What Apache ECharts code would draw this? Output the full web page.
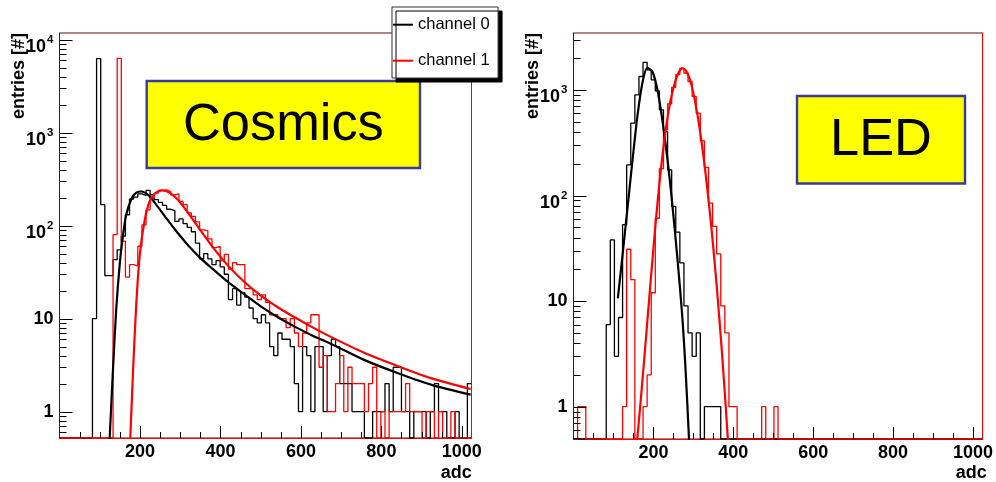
<!DOCTYPE html>
<html>
<head>
<meta charset="utf-8">
<script src="https://cdn.jsdelivr.net/npm/echarts@6/dist/echarts.min.js"></script>
<style>
html,body{margin:0;padding:0;background:#fff;}
#chart{width:996px;height:482px;}
</style>
</head>
<body>
<div id="chart"></div>
<script>
// ---------------- data ----------------
const adcMax = 1024;
const nBins = 100;
const xTickLabels = [200, 400, 600, 800, 1000];
const legendNames = ['channel 0', 'channel 1'];
const cosmicsYRange = [0.52, 11800];
const ledYRange = [0.494, 3470];

// Cosmics, channel 0 (black) : counts per bin
const cosmicsCh0 = [
  0,0,0,0,0,0,0,0,10,6270,
  168,29,29,43,55,77,131,193,203,220,
  210,239,215,190,178,165,150,145,111,118,
  105,96,86,65,44,50,44,38,42,36,
  30,16,21,14,19,17,13,10,9,11,
  9,5,4,7,6,6,5,2,1,5,
  4,1,5,5,1,4,6,5,2,2,
  2,1,1,1,0,0,1,1,1,2,
  1,3,3,1,1,0,1,1,1,0,
  1,2,1,1,0,0,1,0,0,2
];
// Cosmics, channel 1 (red)
const cosmicsCh1 = [
  0,0,0,0,0,0,0,0,0,0,
  0,0,0,80,6300,68,28,38,37,60,
  102,148,198,224,239,243,233,214,220,182,
  168,137,126,110,90,88,72,58,60,42,
  49,34,40,38,38,21,21,18,16,18,
  15,11,11,10,10,8,10,7,5,7,
  9,11,11,3,4,1,1,2,4,1,
  3,2,2,2,1,2,3,0,1,0,
  1,1,1,1,2,1,1,1,0,1,
  1,0,1,0,0,1,0,0,0,0
];
// LED, channel 0 (black)
const ledCh0 = [
  0,0,0,0,0,0,0,0,6,38,
  3,7,53,195,485,900,1343,1830,1550,1250,
  980,649,404,175,79,45,23,9,5,3,
  5,0,1,1,1,1,0,0,0,0,
  0,0,0,0,0,0,0,0,0,0,
  0,0,0,0,0,0,0,0,0,0,
  0,0,0,0,0,0,0,0,0,0,
  0,0,0,0,0,0,0,0,0,0,
  0,0,0,0,0,0,0,0,0,0,
  0,0,0,0,0,0,0,0,0,0
];
// LED, channel 1 (red)
const ledCh1 = [
  0,1,1,0,0,0,0,0,0,0,
  0,0,1,31,16,0,0,1,2,12,
  61,180,419,740,1060,1400,1610,1450,1200,870,
  604,330,185,85,51,28,9,5,1,1,
  0,0,0,0,0,0,1,0,0,1,
  0,0,0,0,0,0,0,0,0,0,
  0,0,0,0,0,0,0,0,0,0,
  0,0,0,0,0,0,0,0,0,0,
  0,0,0,0,0,0,0,0,0,0,
  0,0,0,0,0,0,0,0,0,0
];

// fit curves (adc, entries)
const cosmicsFit0X = [122,125,133,141,150,158,166,179,191,204,220,237,262,287,320,349,379,420,463,504,545,587,628,673,757,840,923,1022];
const cosmicsFit0Y = [0.30,0.55,2.88,12.6,39.8,79.4,132,195,226,233,214,176,126,90.8,61.1,45.3,34.7,24.5,17.8,13.2,10.2,8.1,6.6,5.4,3.6,2.6,1.95,1.52];
const cosmicsFit1X = [173,176,183,191,200,212,224,237,254,275,299,324,343,379,420,463,504,545,587,628,673,757,840,923,1022];
const cosmicsFit1Y = [0.25,0.52,2.86,14.8,51,116,182,220,239,224,180,129,98.8,60.3,36.7,24,17.2,13.0,10.2,8.1,6.4,4.3,3.1,2.29,1.75];
const ledFit0X = [111,123,136,148,160,173,185,198,210,222,235,247,260,272,280,287,293];
const ledFit0Y = [10.6,27.9,81.8,221,566,1197,1622,1483,1007,533,224,85.1,25.7,7.41,2.45,0.73,0.24];
const ledFit1X = [156,169,181,193.5,206,218,231,243,255.5,264,272,281,290,297,309,322,334,346,359,371,381,390];
const ledFit1Y = [0.35,1.23,4.28,16.1,57,167,424,800,1233,1486,1600,1535,1300,1054,624,295,125,46.3,13.2,3.5,1.01,0.30];

// ---------------- helpers ----------------
const FONT = '"Liberation Sans", Arial, Helvetica, sans-serif';
const binEdges = [];
for (let i = 0; i <= nBins; i++) binEdges.push(i * adcMax / nBins);

function histData(counts, floor) {
  const d = counts.map((c, i) => [binEdges[i], c > 0 ? c : floor]);
  const last = counts[counts.length - 1];
  d.push([binEdges[nBins], last > 0 ? last : floor]);
  return d;
}
function pairs(xs, ys) { return xs.map((x, i) => [x, ys[i]]); }

function logTicks(lo, hi) {
  const out = [];
  for (let e = -1; e <= 4; e++) {
    for (let k = 1; k <= 9; k++) {
      const v = k * Math.pow(10, e);
      if (v >= lo && v <= hi) out.push([0, v, k === 1 ? 13 : 7, 0]);
    }
  }
  return out;
}
function xTicks(yLo) {
  const out = [];
  for (let x = 50; x <= 1000; x += 50) out.push([x, yLo, x % 200 === 0 ? 12 : 6, 1]);
  return out;
}
function tickSeries(idx, yRange) {
  return {
    type: 'custom', xAxisIndex: idx, yAxisIndex: idx, silent: true, z: 6,
    data: logTicks(yRange[0], yRange[1]).concat(xTicks(yRange[0])),
    renderItem: function (params, api) {
      const p = api.coord([api.value(0), api.value(1)]);
      const len = api.value(2);
      if (api.value(3) === 0) {
        const y = Math.round(p[1]) + 0.5;
        return {type: 'line', shape: {x1: p[0], y1: y, x2: p[0] + len, y2: y}, style: {stroke: '#000', lineWidth: 1}};
      }
      const x = Math.round(p[0]) + 0.5;
      return {type: 'line', shape: {x1: x, y1: p[1], x2: x, y2: p[1] - len}, style: {stroke: '#000', lineWidth: 1}};
    }
  };
}

const yLabel = {
  margin: 6, color: '#000', fontFamily: FONT,
  formatter: function (v) {
    const e = Math.round(Math.log10(v));
    if (Math.abs(v / Math.pow(10, e) - 1) > 1e-6) return '';
    if (e <= 1) return '{n|' + Math.round(Math.pow(10, e)) + '}';
    return '{b|10}{s|' + e + '}';
  },
  rich: {
    n: {fontSize: 18, fontWeight: 'bold', fontFamily: FONT, color: '#000', verticalAlign: 'middle'},
    b: {fontSize: 18, fontWeight: 'bold', fontFamily: FONT, color: '#000', verticalAlign: 'middle', padding: [14, 0, 0, 0]},
    s: {fontSize: 11.5, fontWeight: 'bold', fontFamily: FONT, color: '#000', verticalAlign: 'middle', padding: [0, 0, 0, 1]}
  }
};
const xLabel = {
  margin: 5, color: '#000', fontSize: 18, fontWeight: 'bold', fontFamily: FONT,
  formatter: function (v) { return xTickLabels.indexOf(Math.round(v)) >= 0 ? String(Math.round(v)) : ''; }
};

function xAxisDef(idx) {
  return {
    gridIndex: idx, type: 'value', min: 0, max: adcMax, interval: 200,
    axisLine: {show: true, onZero: false, lineStyle: {color: '#ff0000', width: 1}},
    axisTick: {show: false}, splitLine: {show: false}, axisLabel: xLabel
  };
}
function yAxisDef(idx, range) {
  return {
    gridIndex: idx, type: 'log', logBase: 10, min: range[0], max: range[1],
    axisLine: {show: true, lineStyle: {color: '#5a1010', width: 1}},
    axisTick: {show: false}, splitLine: {show: false}, axisLabel: yLabel
  };
}
function rightEdge(idx) {
  return {
    gridIndex: idx, type: 'value', position: 'right', min: 0, max: 1,
    axisLine: {show: true, onZero: false, lineStyle: {color: '#ff0000', width: 1}},
    axisTick: {show: false}, axisLabel: {show: false}, splitLine: {show: false}
  };
}
function histSeries(name, idx, counts, floor, color, z) {
  return {
    name: name, type: 'line', xAxisIndex: idx, yAxisIndex: idx, step: 'end',
    data: histData(counts, floor), symbol: 'none', clip: true, z: z,
    lineStyle: {color: color, width: 1.3}, itemStyle: {color: color}
  };
}
function fitSeries(name, idx, xs, ys, color, z) {
  return {
    name: name, type: 'line', xAxisIndex: idx, yAxisIndex: idx, smooth: 0.3,
    data: pairs(xs, ys), symbol: 'none', clip: true, z: z,
    lineStyle: {color: color, width: 2.2}, itemStyle: {color: color}
  };
}

const chart = echarts.init(document.getElementById('chart'), null, {renderer: 'canvas'});
chart.setOption({
  animation: false,
  backgroundColor: '#fff',
  grid: [
    {left: 59.5, top: 33, width: 412, height: 405, show: true, borderColor: '#5a1010', borderWidth: 1, backgroundColor: 'transparent'},
    {left: 573.5, top: 33, width: 413, height: 406, show: true, borderColor: '#5a1010', borderWidth: 1, backgroundColor: 'transparent'}
  ],
  xAxis: [xAxisDef(0), xAxisDef(1)],
  yAxis: [yAxisDef(0, cosmicsYRange), yAxisDef(1, ledYRange), rightEdge(0), rightEdge(1)],
  legend: {
    data: legendNames, orient: 'vertical', left: 392, top: 7,
    padding: [8.7, 8.5, 8.3, 1], itemGap: 18, itemWidth: 20, itemHeight: 2, icon: 'rect',
    backgroundColor: '#fff', borderColor: '#333', borderWidth: 1,
    shadowColor: '#000', shadowOffsetX: 4, shadowOffsetY: 4, shadowBlur: 0,
    textStyle: {fontFamily: FONT, fontSize: 16.5, color: '#000', lineHeight: 18},
    selectedMode: false, z: 50
  },
  graphic: [
    {type: 'rect', z: 40, shape: {x: 146.7, y: 81, width: 273.3, height: 87}, style: {fill: '#ffff00', stroke: '#3a3a9a', lineWidth: 2.4}},
    {type: 'text', z: 41, x: 283.4, y: 126, style: {text: 'Cosmics', fontFamily: FONT, fontSize: 52.4, fill: '#000', align: 'center', verticalAlign: 'middle'}},
    {type: 'rect', z: 40, shape: {x: 797, y: 96, width: 168, height: 87.5}, style: {fill: '#ffff00', stroke: '#3a3a9a', lineWidth: 2.4}},
    {type: 'text', z: 41, x: 881, y: 141, style: {text: 'LED', fontFamily: FONT, fontSize: 52.4, fill: '#000', align: 'center', verticalAlign: 'middle'}},
    {type: 'text', z: 41, x: 18.7, y: 33, rotation: Math.PI / 2, style: {text: 'entries [#]', fontFamily: FONT, fontSize: 18, fontWeight: 'bold', fill: '#000', align: 'right', verticalAlign: 'middle'}},
    {type: 'text', z: 41, x: 533.3, y: 33, rotation: Math.PI / 2, style: {text: 'entries [#]', fontFamily: FONT, fontSize: 18, fontWeight: 'bold', fill: '#000', align: 'right', verticalAlign: 'middle'}},
    {type: 'text', z: 41, x: 471.7, y: 473.5, style: {text: 'adc', fontFamily: FONT, fontSize: 18, fontWeight: 'bold', fill: '#000', align: 'right', verticalAlign: 'middle'}},
    {type: 'text', z: 41, x: 986.7, y: 473.5, style: {text: 'adc', fontFamily: FONT, fontSize: 18, fontWeight: 'bold', fill: '#000', align: 'right', verticalAlign: 'middle'}}
  ],
  series: [
    histSeries(legendNames[0], 0, cosmicsCh0, cosmicsYRange[0], '#000000', 2),
    histSeries(legendNames[1], 0, cosmicsCh1, cosmicsYRange[0], '#ff0000', 3),
    fitSeries(legendNames[0], 0, cosmicsFit0X, cosmicsFit0Y, '#000000', 4),
    fitSeries(legendNames[1], 0, cosmicsFit1X, cosmicsFit1Y, '#ff0000', 5),
    histSeries(legendNames[0], 1, ledCh0, ledYRange[0], '#000000', 2),
    histSeries(legendNames[1], 1, ledCh1, ledYRange[0], '#ff0000', 3),
    fitSeries(legendNames[0], 1, ledFit0X, ledFit0Y, '#000000', 4),
    fitSeries(legendNames[1], 1, ledFit1X, ledFit1Y, '#ff0000', 5),
    tickSeries(0, cosmicsYRange),
    tickSeries(1, ledYRange)
  ]
});
</script>
</body>
</html>
